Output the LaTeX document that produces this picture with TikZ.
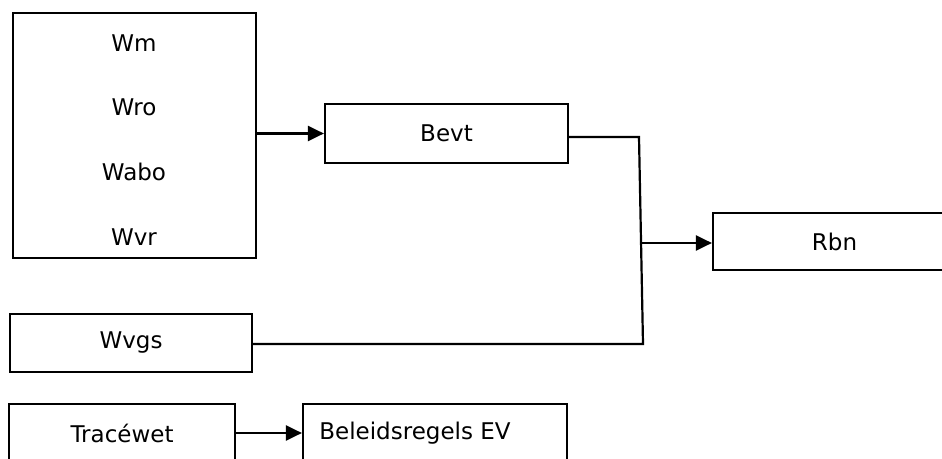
\documentclass[tikz,border=0pt]{standalone}
\usepackage{fontspec}
\setmainfont{DejaVu Sans}
\usetikzlibrary{arrows.meta}
\begin{document}
\begin{tikzpicture}[x=0.5pt,y=-0.5pt,
  box/.style={draw=black, line width=1.1pt, inner sep=0pt, rectangle},
  lbl/.style={inner sep=0pt, font=\fontsize{11.5pt}{13pt}\selectfont},
  conn/.style={draw=black, line width=1.1pt},
  arr/.style={conn, -{Triangle[length=8pt,width=7.5pt]}}]
\useasboundingbox (0,0) rectangle (942,459);
\clip (0,0) rectangle (942,459);
% big box
\node[box, minimum width=121.5pt, minimum height=122.5pt] (big) at (134.5,135.5) {};
\node[lbl] (wm) at (134,43) {Wm};
\node[lbl] (wro) at (134,107) {Wro};
\node[lbl] (wabo) at (134,172) {Wabo};
\node[lbl] (wvr) at (134,237) {Wvr};
% Bevt
\node[box, lbl, minimum width=121.5pt, minimum height=29.5pt] (bevt) at (446.5,133.5) {Bevt};
% Rbn
\node[box, lbl, minimum width=121.5pt, minimum height=28.5pt] (rbn) at (834.5,241.5) {Rbn};
% Wvgs
\node[box, lbl, minimum width=121pt, minimum height=29pt] (wvgs) at (131,343) {Wvgs};
% Tracewet
\node[box, lbl, minimum width=113pt, minimum height=29pt] (trace) at (122,433) {Tracéwet};
% Beleidsregels
\node[box, minimum width=132pt, minimum height=29pt] (bel) at (435,433) {};
\node[lbl] (beltext) at (415,433) {Beleidsregels EV};
% connectors
\coordinate (j1) at (639,137);
\coordinate (j2) at (643,344);
\coordinate (j3) at (641,243);
\draw[arr] (big.east |- bevt.west) -- (bevt.west);
\draw[conn] (bevt.east |- j1) -- (j1) -- (j2) -- (wvgs.east |- j2);
\draw[arr] (j3) -- (rbn.west |- j3);
\draw[arr] (trace.east) -- (bel.west);
\end{tikzpicture}
\end{document}
